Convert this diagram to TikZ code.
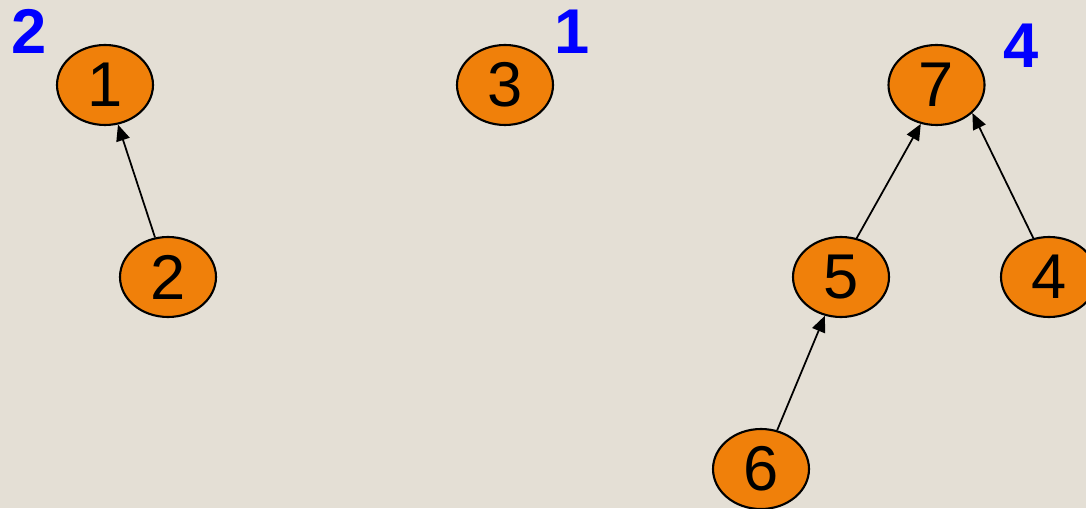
\documentclass[tikz,border=0pt]{standalone}
\usepackage{fontspec}
\setmainfont{Liberation Sans}
\usetikzlibrary{arrows.meta,shapes.geometric}
\definecolor{bgtan}{HTML}{E4DFD5}
\definecolor{setorange}{HTML}{F0800A}
\definecolor{rankblue}{HTML}{0000FF}
\tikzset{
  elem/.style={ellipse, draw=black, line width=0.6pt, fill=setorange,
    minimum width=0.96cm, minimum height=0.80cm, inner sep=0pt,
    font=\fontsize{18}{20}\selectfont},
  rank/.style={text=rankblue, inner sep=0pt,
    font=\fontsize{18}{20}\selectfont\bfseries},
  link/.style={line width=0.5pt, -{Triangle[length=4.6pt,width=3.9pt]}}
}
\begin{document}
\begin{tikzpicture}
    \fill[bgtan] (0,0) rectangle (10.86,5.08);
    \useasboundingbox (0,0) rectangle (10.86,5.08);
    \clip (0,0) rectangle (10.86,5.08);
    \node[elem] (n1) at (1.05,4.23)  {1};
    \node[elem] (n2) at (1.68,2.31)  {2};
    \node[elem] (n3) at (5.05,4.23)  {3};
    \node[elem] (n7) at (9.365,4.23) {7};
    \node[elem] (n5) at (8.41,2.31)  {5};
    \node[elem] (n4) at (10.49,2.31) {4};
    \node[elem] (n6) at (7.61,0.39)  {6};
    \node[rank] (r1) at (0.29,4.77)  {2};
    \node[rank] (r3) at (5.72,4.76)  {1};
    \node[rank] (r7) at (10.21,4.62) {4};
    \draw[link] (n2) -- (n1);
    \draw[link] (n5.68) -- (n7.248);
    \draw[link] (n4.112) -- (n7.322);
    \draw[link] (n6) -- (n5);
\end{tikzpicture}
\end{document}
